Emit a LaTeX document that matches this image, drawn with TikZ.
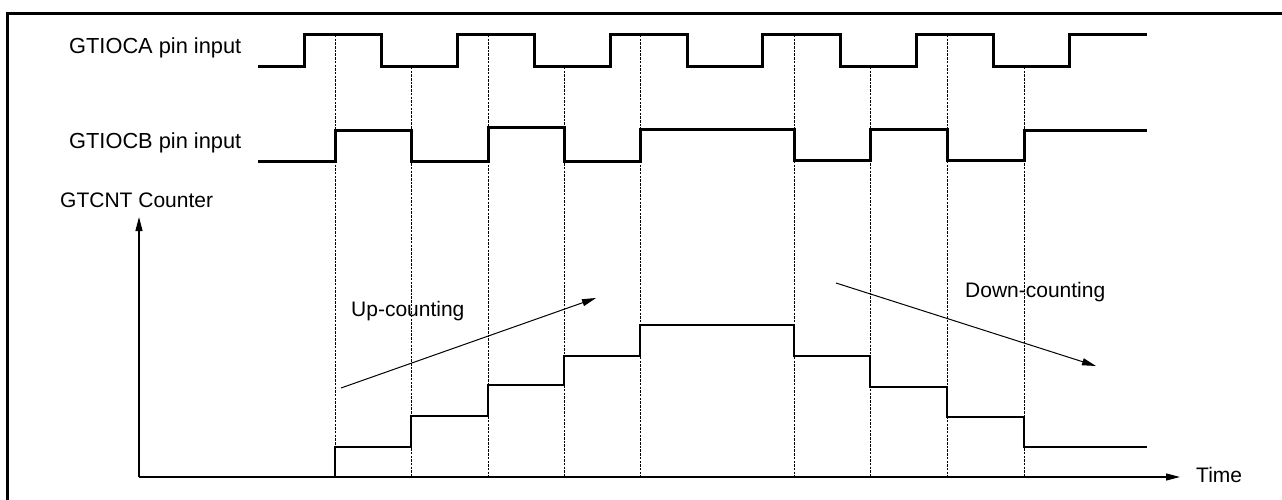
\documentclass[tikz,border=0pt]{standalone}
\usepackage{fontspec}
\setmainfont{Liberation Sans}
\usetikzlibrary{arrows.meta}
\begin{document}
\begin{tikzpicture}[x=1pt,y=-1pt,
  sig/.style={line width=3pt, line join=miter},
  cnt/.style={line width=2pt, line join=miter},
  guide/.style={line width=0.9pt, dash pattern=on 2.5pt off 1.2pt},
  axisarrow/.style={line width=1.3pt, -{Triangle[length=14pt,width=7pt]}},
  trendarrow/.style={line width=1pt, -{Triangle[length=14pt,width=7pt]}},
  lbl/.style={font=\fontsize{21}{25}\selectfont, inner sep=0pt, anchor=base west},
  pinlbl/.style={lbl, font=\fontsize{21.8}{26}\selectfont}]
\useasboundingbox (0,0) rectangle (1282,500);
% frame
\draw[line width=3.3pt] (7.5,500) -- (7.5,13.3) -- (1282,13.3);
% labels
\node[pinlbl] (la) at (69,54) {GTIOCA pin input};
\node[pinlbl] (lb) at (69,149) {GTIOCB pin input};
\node[lbl] (lc) at (60,207) {GTCNT Counter};
\node[lbl] (up) at (351,316.5) {Up-counting};
\node[lbl] (dn) at (965,297.5) {Down-counting};
\node[lbl] (tm) at (1196,482.5) {Time};
% guides
\foreach \gx/\gy in {335/35, 411/67, 488/35, 564/67, 640/35, 794/35, 870/67, 947/35, 1024/67}
  \draw[guide] (\gx,\gy) -- (\gx,477);
% GTIOCA
\draw[sig] (258,67) -- (304,67) -- (304,35) -- (381,35) -- (381,67) -- (457,67) -- (457,35)
  -- (534,35) -- (534,67) -- (610,67) -- (610,35) -- (687,35) -- (687,67) -- (762,67)
  -- (762,35) -- (840,35) -- (840,67) -- (916,67) -- (916,35) -- (993,35) -- (993,67)
  -- (1069,67) -- (1069,35) -- (1147,35);
% GTIOCB
\draw[sig] (258,161) -- (335,161) -- (335,131) -- (411,131) -- (411,161) -- (488,161)
  -- (488,128) -- (564,128) -- (564,161) -- (640,161) -- (640,130) -- (794,130)
  -- (794,160) -- (870,160) -- (870,130) -- (947,130) -- (947,160) -- (1024,160)
  -- (1024,131) -- (1147,131);
% counter
\draw[cnt] (335,477) -- (335,447) -- (411,447) -- (411,416) -- (488,416) -- (488,385)
  -- (564,385) -- (564,356) -- (640,356) -- (640,325) -- (794,325) -- (794,356)
  -- (870,356) -- (870,387) -- (947,387) -- (947,417) -- (1024,417) -- (1024,447)
  -- (1147,447);
% axes
\coordinate (o) at (139,477);
\coordinate (ytop) at (139,217);
\coordinate (xend) at (1180,477);
\draw[axisarrow] (o) -- (ytop);
\draw[axisarrow] (o) -- (xend);
% trend arrows
\coordinate (u1) at (341,388);
\coordinate (u2) at (596,298);
\coordinate (d1) at (836,283);
\coordinate (d2) at (1096,366);
\draw[trendarrow] (u1) -- (u2);
\draw[trendarrow] (d1) -- (d2);
\end{tikzpicture}
\end{document}
